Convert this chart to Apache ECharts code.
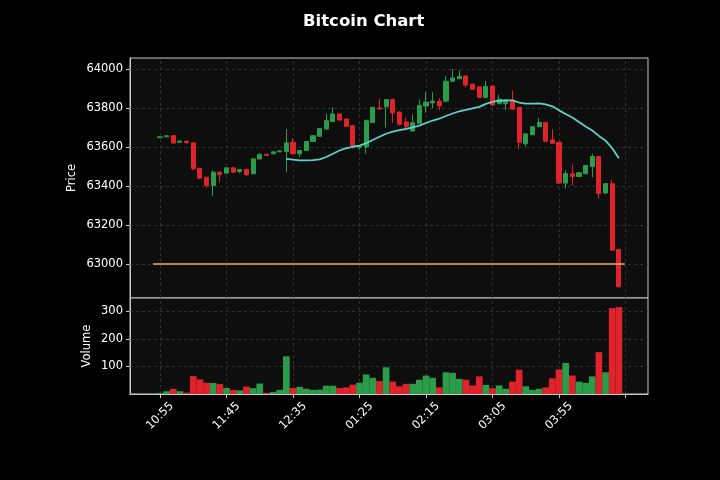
<!DOCTYPE html>
<html>
<head>
<meta charset="utf-8">
<script src="https://cdn.jsdelivr.net/npm/echarts@6/dist/echarts.min.js"></script>
<style>
html,body{margin:0;padding:0;background:#000;}
#c{width:720px;height:480px;}
</style>
</head>
<body>
<div id="c"></div>
<script>
// ---- data (5-minute candles, index 0 = 10:55) ----
const tickLabels = ['10:55','11:45','12:35','01:25','02:15','03:05','03:55'];
const tickIndices = [0,10,20,30,40,50,60,70];
const priceTicks = [63000,63200,63400,63600,63800,64000];
const volumeTicks = [100,200,300];

const opens = [63648,63652,63658,63624,63630,63621,63491,63445,63403,63471,
  63466,63493,63474,63485,63463,63539,63563,63565,63575,63577,
  63624,63565,63582,63628,63655,63692,63730,63769,63743,63709,
  63598,63600,63726,63800,63806,63843,63779,63728,63682,63721,
  63810,63826,63835,63835,63937,63950,63964,63922,63908,63854,
  63912,63822,63822,63840,63803,63616,63663,63704,63726,63636,
  63624,63415,63463,63449,63463,63500,63551,63364,63412,63075];
const closes = [63652,63657,63620,63630,63622,63488,63440,63403,63471,63458,
  63493,63471,63484,63458,63539,63561,63557,63575,63580,63621,
  63565,63582,63628,63658,63695,63735,63769,63738,63706,63607,
  63603,63735,63803,63795,63843,63775,63716,63704,63724,63813,
  63830,63835,63810,63937,63954,63963,63918,63896,63854,63910,
  63815,63845,63840,63794,63624,63667,63704,63726,63629,63619,
  63415,63463,63449,63468,63505,63551,63361,63412,63071,62884];
const highs = [63654,63660,63660,63632,63632,63623,63493,63447,63480,63475,
  63495,63495,63486,63488,63541,63570,63565,63577,63583,63692,
  63644,63585,63630,63660,63697,63770,63803,63772,63745,63712,
  63610,63740,63805,63847,63845,63848,63782,63750,63767,63843,
  63881,63881,63850,63963,64000,63993,63966,63925,63910,63938,
  63915,63868,63845,63888,63806,63670,63707,63748,63728,63692,
  63626,63480,63510,63472,63508,63565,63554,63415,63432,63078];
const lows = [63646,63650,63618,63622,63618,63480,63436,63388,63349,63418,
  63462,63468,63465,63450,63460,63537,63555,63563,63573,63471,
  63560,63547,63580,63626,63652,63690,63728,63735,63703,63592,
  63585,63565,63724,63792,63700,63724,63710,63684,63680,63718,
  63775,63800,63790,63830,63935,63948,63905,63893,63850,63852,
  63808,63818,63790,63790,63590,63602,63660,63702,63626,63616,
  63412,63386,63403,63446,63460,63445,63335,63362,63068,62880];
const volumes = [4,10,19,10,5,65,53,41,40,36,
  22,15,13,27,21,38,4,7,15,137,
  22,26,19,15,16,30,30,22,24,34,
  41,71,59,47,97,45,28,37,37,52,
  67,59,24,79,77,55,52,31,64,33,
  21,31,19,45,88,28,15,19,24,57,
  89,113,67,45,41,64,152,79,312,316];
const hlineLevel = 63000;
const maPeriod = 20;

// ---- styling ----
const UP = '#2b9c4a', DOWN = '#e0232b';
const GRIDC = '#3a3a3a';
const AXISC = '#c8c8c8';
const FONT = 'DejaVu Sans';
const xMin = -4.51, xMax = 73.38;

const candleData = opens.map((o, i) => [i, o, closes[i], lows[i], highs[i]]);
const volData = volumes.map((v, i) => ({
  value: [i, v],
  itemStyle: { color: closes[i] >= opens[i] ? UP : DOWN }
}));
// moving average of closes (mav = 20)
const maData = [];
for (let i = maPeriod - 1; i < closes.length; i++) {
  let s = 0;
  for (let k = i - maPeriod + 1; k <= i; k++) s += closes[k];
  maData.push([i, s / maPeriod]);
}

const gridLine = { color: GRIDC, width: 0.8, type: [3, 3] };
function gridMarks(yVals) {
  return {
    silent: true, symbol: 'none', z: 1, animation: false,
    label: { show: false }, lineStyle: gridLine,
    emphasis: { disabled: true },
    data: tickIndices.map(v => ({ xAxis: v })).concat(yVals.map(v => ({ yAxis: v })))
  };
}
const plain = v => String(Math.round(v));
const axLine = { show: true, onZero: false, lineStyle: { color: AXISC } };

const chart = echarts.init(document.getElementById('c'), null, { renderer: 'canvas' });
chart.setOption({
  animation: false,
  backgroundColor: '#000000',
  textStyle: { fontFamily: FONT },
  title: {
    text: 'Bitcoin Chart', left: 298, top: 8,
    textStyle: { color: '#ffffff', fontSize: 16.5, fontWeight: 'bold', fontFamily: FONT }
  },
  grid: [
    { left: 130, width: 518, top: 58, height: 240, show: true, backgroundColor: '#0e0e0e', borderColor: AXISC, borderWidth: 1 },
    { left: 130, width: 518, top: 298, height: 96, show: true, backgroundColor: '#0e0e0e', borderColor: AXISC, borderWidth: 1 }
  ],
  xAxis: [
    { gridIndex: 0, type: 'value', min: xMin, max: xMax,
      axisLine: { show: false, onZero: false }, axisTick: { show: false }, axisLabel: { show: false }, splitLine: { show: false } },
    { gridIndex: 1, type: 'value', min: xMin, max: xMax,
      axisLine: axLine,
      axisTick: { show: true, customValues: tickIndices, length: 4, lineStyle: { color: AXISC } },
      axisLabel: { show: true, customValues: tickIndices.slice(0, tickLabels.length), rotate: 45,
        align: 'center', verticalAlign: 'middle',
        color: '#ffffff', fontSize: 11.5, fontFamily: FONT, margin: 22,
        formatter: v => tickLabels[Math.round(v / 10)] || '' },
      splitLine: { show: false } }
  ],
  yAxis: [
    { gridIndex: 0, type: 'value', min: 62826, max: 64056,
      name: 'Price', nameLocation: 'middle', nameGap: 52, nameMoveOverlap: false,
      nameTextStyle: { color: '#ffffff', fontSize: 11.5, fontFamily: FONT },
      axisLine: axLine,
      axisTick: { show: true, customValues: priceTicks, length: 4, lineStyle: { color: AXISC } },
      axisLabel: { show: true, customValues: priceTicks, color: '#ffffff', fontSize: 11.5, fontFamily: FONT, margin: 7, formatter: plain },
      splitLine: { show: false } },
    { gridIndex: 1, type: 'value', min: 0, max: 349,
      name: 'Volume', nameLocation: 'middle', nameGap: 37, nameMoveOverlap: false,
      nameTextStyle: { color: '#ffffff', fontSize: 11.5, fontFamily: FONT },
      axisLine: axLine,
      axisTick: { show: true, customValues: volumeTicks, length: 4, lineStyle: { color: AXISC } },
      axisLabel: { show: true, customValues: volumeTicks, color: '#ffffff', fontSize: 11.5, fontFamily: FONT, margin: 7, formatter: plain },
      splitLine: { show: false } }
  ],
  series: [
    { type: 'candlestick', xAxisIndex: 0, yAxisIndex: 0, z: 3,
      data: candleData, encode: { x: 0, y: [1, 2, 3, 4] },
      barWidth: 4.6,
      itemStyle: { color: UP, color0: DOWN, borderColor: UP, borderColor0: DOWN, borderWidth: 1 },
      markLine: gridMarks(priceTicks) },
    { type: 'line', xAxisIndex: 0, yAxisIndex: 0, z: 4, data: maData,
      showSymbol: false, symbol: 'none', lineStyle: { color: '#5cd3c6', width: 1.8 } },
    { type: 'line', xAxisIndex: 0, yAxisIndex: 0, z: 4,
      data: [[-1.05, hlineLevel], [69.9, hlineLevel]],
      showSymbol: false, symbol: 'none', lineStyle: { color: '#f4a869', width: 1.6 } },
    { type: 'bar', xAxisIndex: 1, yAxisIndex: 1, z: 3, data: volData, barWidth: 6.7,
      markLine: gridMarks(volumeTicks) }
  ]
});
</script>
</body>
</html>
